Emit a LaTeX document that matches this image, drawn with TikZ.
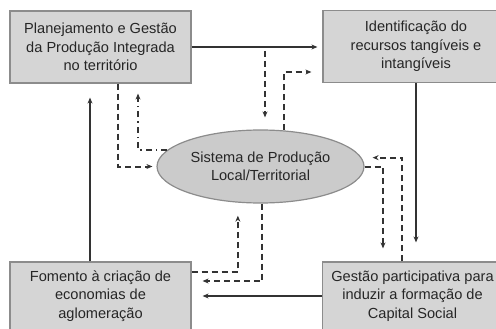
\documentclass[tikz,border=0pt]{standalone}
\usepackage{fontspec}
\setmainfont{Liberation Sans}
\usepackage{tikz}
\usetikzlibrary{calc,shapes.geometric,arrows.meta}

\definecolor{boxgray}{HTML}{D5D5D5}
\definecolor{ellgray}{HTML}{CBCBCB}
\definecolor{edgegray}{HTML}{8C8C8C}
\definecolor{linegray}{HTML}{333333}
\definecolor{textgray}{HTML}{262626}

\begin{document}
\begin{tikzpicture}[x=1pt,y=-1pt]
    \tikzstyle{box} = [draw=edgegray, line width=1.2pt, fill=boxgray, text=textgray, align=center, font=\fontsize{14.6}{18.5}\selectfont]
    \tikzstyle{arrow} = [draw=linegray, line width=2pt, -{Stealth[length=6pt,width=5pt]}, shorten >=11pt]
    \tikzstyle{dasharrow} = [arrow, dash pattern=on 6pt off 4pt]
    \useasboundingbox (0,0) rectangle (496,329);

    % Top-left box
    \node [box, minimum width=181pt, minimum height=72pt] (Plan) at (100.5,47) {Planejamento e Gestão\\da Produção Integrada\\no território};

    % Top-right box
    \node [box, minimum width=186pt, minimum height=72pt] (Ident) at (416,46.5) {Identificação do\\recursos tangíveis e\\intangíveis};

    % Bottom-left box
    \node [box, minimum width=181pt, minimum height=68pt] (Fomento) at (100.5,296) {Fomento à criação de\\economias de\\aglomeração};

    % Bottom-right box
    \node [box, minimum width=180pt, minimum height=68pt] (Gestao) at (412.5,296) {Gestão participativa para\\induzir a formação de\\Capital Social};

    % Middle ellipse
    \node [draw=edgegray, line width=1.2pt, fill=ellgray, ellipse, minimum width=207pt, minimum height=73pt, inner sep=0pt, text=textgray, align=center, font=\fontsize{14.6}{18.5}\selectfont] (Sistema) at (260.5,166.5) {Sistema de Produção\\Local/Territorial};

    % Solid loop round the four boxes
    \draw [arrow, shorten >=5pt] (Plan.east) -- (Plan.east -| Ident.west);
    \draw [arrow, shorten >=19pt] (Ident.south) -- (Ident.south |- Gestao.north);
    \draw [arrow] (Gestao.west) -- (Fomento.east);
    \coordinate (UpFrom) at ($(Fomento.north)+(-10.5,0)$);
    \draw [arrow, shorten >=14pt] (UpFrom) -- (UpFrom |- Plan.south);

    % Dashed links between top-left box and ellipse
    \draw [dasharrow, shorten >=4pt] ($(Plan.south)+(17.5,0)$) |- (Sistema.west);
    \draw [dasharrow, shorten >=10pt, dash pattern=on 6pt off 4pt on 1.5pt off 4pt] (Sistema.170) -| ($(Plan.south)+(37.5,0)$);

    % Dashed links between top-right box and ellipse
    \coordinate (TopLine) at (265,51);
    \draw [dasharrow, shorten >=12pt] (TopLine) -- (TopLine |- Sistema.north);
    \draw [dasharrow] (Sistema.57) |- ($(Ident.west)+(0,25.5)$);

    % Dashed links between bottom-right box and ellipse
    \draw [dasharrow, shorten >=13pt] (Sistema.east) -| ($(Gestao.north)+(-29.5,0)$);
    \draw [dasharrow] ($(Gestao.north)+(-10.5,0)$) |- (Sistema.5);

    % Dashed links between bottom-left box and ellipse
    \draw [dasharrow] (Sistema.-87) |- ($(Fomento.east)+(0,-15)$);
    \draw [dasharrow, shorten >=13pt] ($(Fomento.east)+(0,-24)$) -| (Sistema.238);
\end{tikzpicture}
\end{document}
